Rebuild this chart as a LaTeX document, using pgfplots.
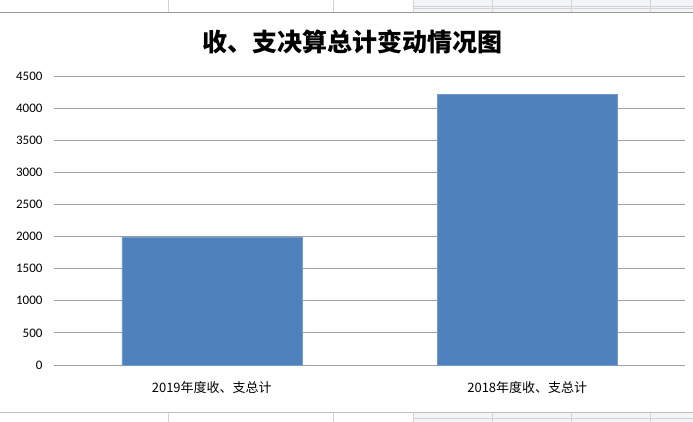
\documentclass[border=0pt]{standalone}
\usepackage{pgfplots}
\pgfplotsset{compat=1.18}
\usepackage{fontspec}
\setmainfont{Carlito}
\newfontfamily\cjk{Noto Sans CJK SC}
\definecolor{barblue}{HTML}{4F81BD}
\definecolor{gridgray}{HTML}{A0A0A0}
\definecolor{cellgray}{HTML}{D4D4D4}
\definecolor{cellblue}{HTML}{DCE6EE}
\begin{document}
\begin{tikzpicture}[x=1pt,y=1pt]
\path[use as bounding box] (0,0) rectangle (693,422);
% spreadsheet surroundings
\fill[cellblue!40] (413,409) rectangle (693,422);
\fill[cellblue!40] (413,0) rectangle (693,9);
\foreach \xx in {168,333,413,492,571,650} {
  \draw[cellgray] (\xx,409) -- (\xx,422);
  \draw[cellgray] (\xx,0) -- (\xx,9);
}
\draw[cellgray] (413,414) -- (693,414);
\draw[cellgray] (413,416) -- (693,416);
\draw[cellgray] (413,4) -- (693,4);
\draw[gray!80, line width=0.8pt] (0,409.5) -- (693,409.5);
\draw[gray!50, line width=0.8pt] (0,9.5) -- (693,9.5);
\begin{axis}[
  at={(54pt,57pt)}, anchor=south west,
  scale only axis, width=631pt, height=289pt,
  xmin=-0.5, xmax=1.5, ymin=0, ymax=4500,
  ytick={0,500,...,4500},
  xtick={0,1},
  xticklabels={{\cjk 2019年度收、支总计},{\cjk 2018年度收、支总计}},
  axis line style={draw=none},
  axis x line*=bottom,
  x axis line style={draw=gridgray, line width=0.8pt},
  axis y line*=left,
  y axis line style={draw=none},
  major tick length=0pt,
  ymajorgrids, grid style={gridgray, line width=0.8pt},
  tick label style={font=\fontsize{13}{15}\selectfont},
  yticklabel style={xshift=-8pt},
  xticklabel style={yshift=-13pt},
  /pgf/number format/assume math mode=true,
  /pgf/number format/set thousands separator={},
  ybar, bar width=180pt,
  clip=false,
]
\addplot[fill=barblue, draw=barblue!80!white] coordinates {(0,1995) (1,4212)};
\end{axis}
\node at (352,380) {\cjk\bfseries\fontsize{25}{28}\selectfont 收、支决算总计变动情况图};
\end{tikzpicture}
\end{document}
